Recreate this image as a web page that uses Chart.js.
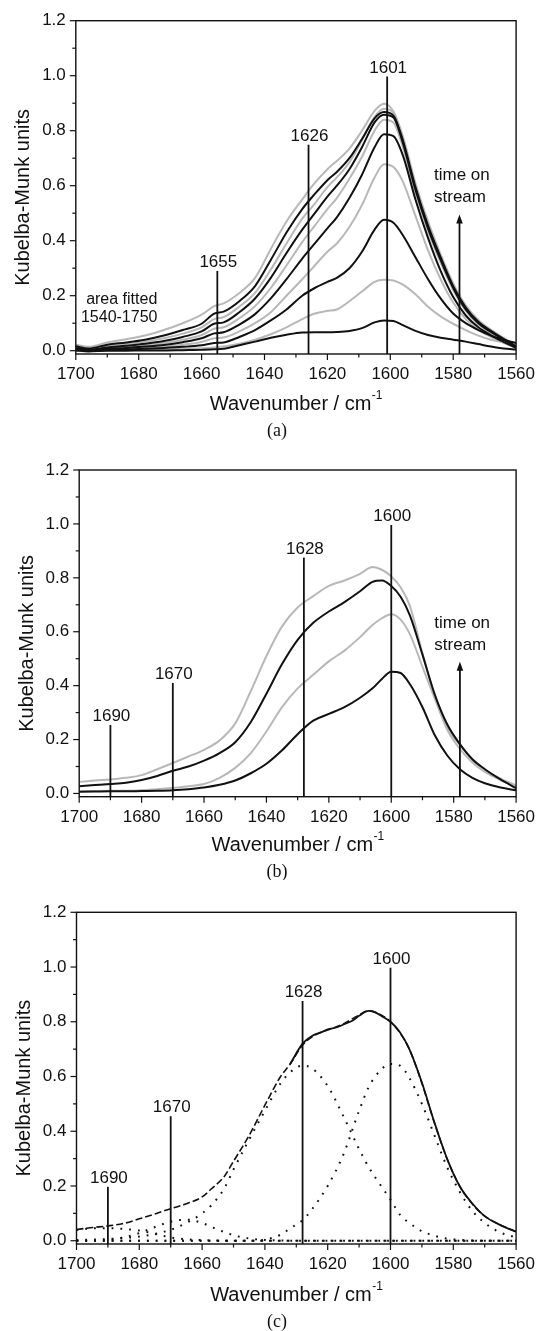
<!DOCTYPE html>
<html lang="en">
<head>
<meta charset="utf-8">
<title>Kubelba-Munk</title>
<script src="https://cdn.jsdelivr.net/npm/chart.js@4.4.1/dist/chart.umd.min.js"></script>
<style>
  html, body { margin: 0; padding: 0; background: #fff; }
  body { position: relative; width: 545px; height: 1331px; overflow: hidden; }
  canvas { position: absolute; left: 0; }
</style>
</head>
<body>
<canvas id="graficoA" width="545" height="440" style="top:0px"></canvas>
<canvas id="graficoB" width="545" height="440" style="top:440px"></canvas>
<canvas id="graficoC" width="545" height="451" style="top:880px"></canvas>
<script>
// ===== dados do painel (a) =====
var ondaA = [1700,1696,1690,1684,1678,1672,1666,1660,1656,1653,1648,1643,1638,1633,1628,1624,1620,1617,1613,1609,1605,1602,1599,1596,1592,1588,1584,1580,1576,1572,1568,1564,1560];
// pretas e cinzas alternando, de baixo pra cima
var serieA1 = [0.001,-0.003,0.0,0.0,0.001,0.001,0.002,0.003,0.005,0.007,0.02,0.033,0.047,0.058,0.066,0.067,0.067,0.068,0.072,0.082,0.103,0.11,0.108,0.093,0.072,0.057,0.047,0.04,0.033,0.024,0.015,0.008,0.004];
var serieA2 = [0.002,0.0,0.002,0.003,0.004,0.005,0.007,0.009,0.012,0.015,0.025,0.04,0.06,0.085,0.115,0.135,0.145,0.15,0.18,0.215,0.25,0.258,0.255,0.24,0.205,0.16,0.125,0.098,0.075,0.055,0.04,0.03,0.02];
var serieA3 = [0.003,0.0,0.003,0.005,0.007,0.01,0.014,0.02,0.028,0.03,0.05,0.075,0.11,0.15,0.2,0.228,0.25,0.265,0.3,0.36,0.44,0.476,0.465,0.42,0.34,0.26,0.19,0.135,0.1,0.075,0.055,0.04,0.028];
var serieA4 = [0.004,0.001,0.005,0.007,0.01,0.015,0.022,0.032,0.045,0.048,0.07,0.1,0.14,0.2,0.26,0.31,0.36,0.39,0.45,0.53,0.63,0.678,0.668,0.615,0.49,0.365,0.26,0.175,0.115,0.077,0.05,0.029,0.01];
var serieA5 = [0.006,0.002,0.007,0.01,0.015,0.021,0.031,0.045,0.063,0.067,0.095,0.133,0.19,0.26,0.335,0.39,0.445,0.485,0.555,0.64,0.74,0.787,0.78,0.71,0.55,0.41,0.29,0.195,0.128,0.085,0.056,0.032,0.01];
var serieA6 = [0.008,0.003,0.009,0.014,0.02,0.028,0.04,0.057,0.08,0.085,0.118,0.162,0.228,0.31,0.395,0.455,0.515,0.555,0.625,0.705,0.8,0.84,0.83,0.74,0.575,0.435,0.32,0.22,0.145,0.096,0.064,0.037,0.012];
var serieA7 = [0.01,0.004,0.012,0.018,0.025,0.035,0.05,0.07,0.098,0.103,0.14,0.19,0.265,0.355,0.44,0.5,0.56,0.6,0.66,0.74,0.83,0.858,0.848,0.755,0.585,0.445,0.33,0.228,0.15,0.1,0.068,0.04,0.014];
var serieA8 = [0.012,0.006,0.016,0.024,0.033,0.045,0.062,0.085,0.115,0.122,0.16,0.21,0.295,0.39,0.48,0.535,0.595,0.63,0.685,0.765,0.85,0.88,0.865,0.77,0.6,0.46,0.343,0.238,0.16,0.108,0.074,0.045,0.018];
var serieA9 = [0.016,0.008,0.022,0.03,0.04,0.055,0.075,0.098,0.135,0.142,0.18,0.235,0.33,0.43,0.515,0.57,0.62,0.65,0.7,0.77,0.845,0.868,0.855,0.765,0.595,0.455,0.34,0.235,0.157,0.105,0.072,0.043,0.016];
var serieA10 = [0.022,0.014,0.03,0.042,0.055,0.075,0.1,0.131,0.162,0.172,0.21,0.265,0.37,0.47,0.55,0.61,0.66,0.69,0.735,0.8,0.872,0.898,0.87,0.78,0.61,0.47,0.35,0.245,0.165,0.112,0.076,0.047,0.02];
var picosA = [1655, 1626, 1601];
var alturasA = [0.29, 0.749, 0.997];
var setaA = [1578, 0.495];

// ===== dados do painel (b) =====
var ondaB = [1700,1695,1690,1685,1680,1675,1670,1665,1660,1655,1650,1645,1640,1635,1630,1625,1620,1615,1610,1606,1603,1600,1597,1594,1590,1586,1582,1578,1574,1570,1565,1560];
var serieB1 = [0.043,0.048,0.052,0.058,0.068,0.09,0.113,0.137,0.162,0.197,0.26,0.38,0.51,0.62,0.69,0.732,0.77,0.79,0.815,0.84,0.83,0.805,0.765,0.695,0.52,0.36,0.245,0.18,0.125,0.088,0.055,0.03];
var serieB2 = [0.027,0.031,0.035,0.04,0.05,0.065,0.084,0.1,0.122,0.15,0.19,0.265,0.37,0.48,0.57,0.633,0.675,0.71,0.75,0.785,0.79,0.77,0.73,0.66,0.515,0.365,0.255,0.183,0.127,0.09,0.052,0.02];
var serieB3 = [0.008,0.009,0.01,0.01,0.012,0.016,0.02,0.027,0.035,0.058,0.095,0.15,0.23,0.32,0.39,0.44,0.49,0.53,0.58,0.625,0.65,0.665,0.645,0.59,0.47,0.35,0.235,0.165,0.115,0.08,0.05,0.025];
var serieB4 = [0.006,0.007,0.008,0.008,0.009,0.01,0.012,0.016,0.022,0.032,0.048,0.075,0.11,0.16,0.22,0.27,0.295,0.32,0.355,0.39,0.425,0.452,0.447,0.405,0.32,0.215,0.14,0.09,0.058,0.038,0.022,0.012];
var picosB = [1690, 1670, 1628, 1600];
var alturasB = [0.254, 0.41, 0.875, 0.996];
var setaB = [1578, 0.489];

// ===== dados do painel (c) =====
var ondaC = [1700,1695,1690,1685,1680,1675,1670,1665,1660,1657,1653,1650,1645,1640,1635,1632,1628,1625,1620,1615,1610,1607,1603,1600,1597,1594,1590,1586,1582,1578,1574,1570,1565,1560];
var ajusteC = [0.041,0.048,0.054,0.063,0.08,0.098,0.117,0.135,0.16,0.19,0.234,0.29,0.385,0.495,0.6,0.645,0.715,0.745,0.77,0.792,0.825,0.84,0.825,0.8,0.76,0.7,0.575,0.43,0.3,0.2,0.135,0.09,0.058,0.033];
var comp1600 = [0,0,0,0,0,0,0,0,0,0,0,0,0,0.004,0.022,0.045,0.075,0.115,0.2,0.315,0.475,0.56,0.625,0.646,0.64,0.595,0.5,0.385,0.27,0.18,0.11,0.065,0.03,0.012];
var comp1628 = [0.002,0.004,0.006,0.01,0.015,0.025,0.04,0.065,0.1,0.13,0.19,0.26,0.37,0.475,0.575,0.615,0.64,0.63,0.565,0.455,0.335,0.27,0.2,0.15,0.095,0.065,0.035,0.018,0.008,0.003,0.001,0,0,0];
var comp1670 = [0,0,0.003,0.012,0.028,0.05,0.07,0.077,0.065,0.05,0.032,0.02,0.008,0.003,0.001,0,0,0,0,0,0,0,0,0,0,0,0,0,0,0,0,0,0,0];
var comp1690 = [0.039,0.045,0.046,0.043,0.037,0.025,0.012,0.005,0.002,0.001,0,0,0,0,0,0,0,0,0,0,0,0,0,0,0,0,0,0,0,0,0,0,0,0];
var ondaMedida = [1632,1628,1625,1622,1620,1617,1615,1612,1610,1607,1605,1603,1600,1597,1594,1590,1586,1582,1578,1574,1570,1565,1560];
var medidaC = [0.645,0.72,0.748,0.762,0.772,0.78,0.79,0.805,0.822,0.84,0.835,0.822,0.8,0.762,0.7,0.578,0.432,0.3,0.2,0.137,0.09,0.057,0.033];
var ondaBase = [1700, 1560];
var linhaBase = [0, 0];
var picosC = [1690, 1670, 1628, 1600];
var alturasC = [0.197, 0.455, 0.876, 0.997];

// marcas dos eixos
var ticksX = [1700, 1680, 1660, 1640, 1620, 1600, 1580, 1560];
var ticksY = [0, 0.2, 0.4, 0.6, 0.8, 1.0, 1.2];

var fonte = '"Liberation Sans", Arial, Helvetica, sans-serif';
var preto = '#111111';
var cinza = '#b8b8b8';

// junta x e y
function montaPontos(ondas, valores) {
  var pontos = [];
  for (var i = 0; i < ondas.length; i++) {
    pontos.push({ x: ondas[i], y: valores[i] });
  }
  return pontos;
}

// cria uma linha do grafico
function fazLinha(ondas, valores, cor, espessura, tracejado) {
  return {
    data: montaPontos(ondas, valores),
    borderColor: cor,
    borderWidth: espessura,
    borderDash: tracejado || [],
    borderCapStyle: 'butt',
    pointRadius: 0,
    fill: false,
    cubicInterpolationMode: 'monotone'
  };
}

// desenha moldura, tracinhos, titulos e anotacoes
var pluginDesenhos = {
  id: 'desenhos',
  afterDatasetsDraw: function(chart, args, op) {
    var ctx = chart.ctx;
    var area = chart.chartArea;
    var ex = chart.scales.x;
    var ey = chart.scales.y;
    ctx.save();
    ctx.fillStyle = preto;
    ctx.strokeStyle = preto;

    // linhas dos picos
    ctx.lineWidth = 1.8;
    ctx.font = '17px ' + fonte;
    ctx.textAlign = 'center';
    ctx.textBaseline = 'alphabetic';
    for (var i = 0; i < op.picos.length; i++) {
      var px = ex.getPixelForValue(op.picos[i]);
      var topo = ey.getPixelForValue(op.alturas[i]);
      ctx.beginPath();
      ctx.moveTo(px, area.bottom);
      ctx.lineTo(px, topo);
      ctx.stroke();
      ctx.fillText(String(op.picos[i]), px + 1, topo - 4);
    }

    // seta do tempo
    if (op.seta) {
      var sx = ex.getPixelForValue(op.seta[0]);
      var st = ey.getPixelForValue(op.seta[1]);
      ctx.beginPath();
      ctx.moveTo(sx, area.bottom);
      ctx.lineTo(sx, st + 6);
      ctx.stroke();
      ctx.beginPath();
      ctx.moveTo(sx, st);
      ctx.lineTo(sx - 3.3, st + 9);
      ctx.lineTo(sx + 3.3, st + 9);
      ctx.closePath();
      ctx.fill();
    }

    // textos soltos
    ctx.textBaseline = 'middle';
    for (var j = 0; j < op.textos.length; j++) {
      var t = op.textos[j];
      ctx.font = t.tam + 'px ' + fonte;
      ctx.textAlign = t.al;
      ctx.fillText(t.texto, ex.getPixelForValue(t.x), ey.getPixelForValue(t.y));
    }
    ctx.restore();
  },
  afterDraw: function(chart, args, op) {
    var ctx = chart.ctx;
    var area = chart.chartArea;
    var ex = chart.scales.x;
    var ey = chart.scales.y;
    ctx.save();
    ctx.strokeStyle = preto;
    ctx.fillStyle = preto;

    // moldura
    ctx.lineWidth = 1.4;
    ctx.strokeRect(area.left, area.top, area.right - area.left, area.bottom - area.top);

    // tracinhos x: grande a cada 20, pequeno a cada 10
    ctx.lineWidth = 1.2;
    for (var w = 1560; w <= 1700; w += 10) {
      var px = ex.getPixelForValue(w);
      var tam = (w % 20 === 0) ? 6 : 3.5;
      ctx.beginPath();
      ctx.moveTo(px, area.bottom);
      ctx.lineTo(px, area.bottom + tam);
      ctx.stroke();
    }
    // tracinhos y: grande a cada 0.2
    for (var k = 0; k <= 12; k++) {
      var py = ey.getPixelForValue(k / 10);
      var tam2 = (k % 2 === 0) ? 6 : 3.5;
      ctx.beginPath();
      ctx.moveTo(area.left, py);
      ctx.lineTo(area.left - tam2, py);
      ctx.stroke();
    }

    // titulo do eixo x com o -1 pequeno em cima
    var parte1 = 'Wavenumber / cm';
    var parte2 = '-1';
    ctx.font = '20px ' + fonte;
    var l1 = ctx.measureText(parte1).width;
    ctx.font = '12px ' + fonte;
    var l2 = ctx.measureText(parte2).width;
    var comeco = (area.left + area.right) / 2 - (l1 + l2) / 2;
    var yTitulo = area.bottom + op.distTitulo;
    ctx.textAlign = 'left';
    ctx.textBaseline = 'middle';
    ctx.font = '20px ' + fonte;
    ctx.fillText(parte1, comeco, yTitulo);
    ctx.font = '12px ' + fonte;
    ctx.fillText(parte2, comeco + l1 + 0.5, yTitulo - 8);

    // titulo do eixo y girado
    ctx.save();
    ctx.translate(area.left - 52, (area.top + area.bottom) / 2 + 10);
    ctx.rotate(-Math.PI / 2);
    ctx.textAlign = 'center';
    ctx.textBaseline = 'middle';
    ctx.font = '20px ' + fonte;
    ctx.fillText('Kubelba-Munk units', 0, 0);
    ctx.restore();

    // letra do painel
    ctx.font = '18px "Liberation Serif", "Times New Roman", serif';
    ctx.textAlign = 'center';
    ctx.textBaseline = 'middle';
    ctx.fillText(op.letra, 277, op.letraY);
    ctx.restore();
  }
};

// monta o grafico de um painel
function criaGrafico(idDoElemento, datasets, cfg) {
  var ctx = document.getElementById(idDoElemento).getContext('2d');
  return new Chart(ctx, {
    type: 'line',
    data: { datasets: datasets },
    options: {
      responsive: false,
      animation: false,
      events: [],
      layout: { padding: { top: cfg.topo, right: cfg.direita, left: 0, bottom: 0 } },
      plugins: {
        legend: { display: false },
        tooltip: { enabled: false },
        desenhos: cfg.desenhos
      },
      scales: {
        x: {
          type: 'linear',
          min: 1560,
          max: 1700,
          reverse: true,
          grid: { display: false, drawTicks: false },
          border: { display: false },
          afterBuildTicks: function(eixo) {
            eixo.ticks = ticksX.map(function(v) { return { value: v }; });
          },
          afterFit: function(eixo) { eixo.height = cfg.alturaX; },
          ticks: {
            padding: 10,
            maxRotation: 0,
            autoSkip: false,
            color: preto,
            font: { family: fonte, size: 17 },
            callback: function(v) { return String(v); }
          }
        },
        y: {
          type: 'linear',
          min: -0.012,
          max: 1.2,
          grid: { display: false, drawTicks: false },
          border: { display: false },
          afterBuildTicks: function(eixo) {
            eixo.ticks = ticksY.map(function(v) { return { value: v }; });
          },
          afterFit: function(eixo) { eixo.width = cfg.larguraY; },
          ticks: {
            padding: 10,
            color: preto,
            font: { family: fonte, size: 17 },
            callback: function(v) { return Number(v).toFixed(1); }
          }
        }
      }
    },
    plugins: [pluginDesenhos]
  });
}

// painel (a): pretas por cima das cinzas
criaGrafico('graficoA', [
  fazLinha(ondaA, serieA9, preto, 2),
  fazLinha(ondaA, serieA7, preto, 2),
  fazLinha(ondaA, serieA5, preto, 2),
  fazLinha(ondaA, serieA3, preto, 2),
  fazLinha(ondaA, serieA1, preto, 2),
  fazLinha(ondaA, serieA10, cinza, 2),
  fazLinha(ondaA, serieA8, cinza, 2),
  fazLinha(ondaA, serieA6, cinza, 2),
  fazLinha(ondaA, serieA4, cinza, 2),
  fazLinha(ondaA, serieA2, cinza, 2)
], {
  topo: 20.7, direita: 20.1, larguraY: 75.8, alturaX: 86,
  desenhos: {
    picos: picosA, alturas: alturasA, seta: setaA,
    letra: '(a)', letraY: 431, distTitulo: 50,
    textos: [
      { texto: 'area fitted', x: 1685.4, y: 0.185, tam: 16, al: 'center' },
      { texto: '1540-1750', x: 1686.2, y: 0.12, tam: 16, al: 'center' },
      { texto: 'time on', x: 1586.1, y: 0.636, tam: 17, al: 'left' },
      { texto: 'stream', x: 1586.1, y: 0.556, tam: 17, al: 'left' }
    ]
  }
});

// painel (b)
criaGrafico('graficoB', [
  fazLinha(ondaB, serieB2, preto, 2),
  fazLinha(ondaB, serieB4, preto, 2),
  fazLinha(ondaB, serieB1, cinza, 2),
  fazLinha(ondaB, serieB3, cinza, 2)
], {
  topo: 30, direita: 23.6, larguraY: 79.2, alturaX: 83.3,
  desenhos: {
    picos: picosB, alturas: alturasB, seta: setaB,
    letra: '(b)', letraY: 432, distTitulo: 48.3,
    textos: [
      { texto: 'time on', x: 1586.2, y: 0.631, tam: 17, al: 'left' },
      { texto: 'stream', x: 1586.2, y: 0.55, tam: 17, al: 'left' }
    ]
  }
});

// painel (c): ajuste tracejado, medida cheia, componentes pontilhadas
criaGrafico('graficoC', [
  fazLinha(ondaMedida, medidaC, preto, 1.8),
  fazLinha(ondaC, ajusteC, preto, 1.6, [7, 3]),
  fazLinha(ondaC, comp1600, preto, 2, [1.8, 7]),
  fazLinha(ondaC, comp1628, preto, 2, [1.8, 7]),
  fazLinha(ondaC, comp1670, preto, 2, [1.8, 7]),
  fazLinha(ondaC, comp1690, preto, 2, [1.8, 7]),
  fazLinha(ondaBase, linhaBase, preto, 2, [1.8, 7])
], {
  topo: 32.3, direita: 20.8, larguraY: 76.5, alturaX: 87,
  desenhos: {
    picos: picosC, alturas: alturasC, seta: null,
    letra: '(c)', letraY: 442, distTitulo: 51,
    textos: []
  }
});
</script>
</body>
</html>
